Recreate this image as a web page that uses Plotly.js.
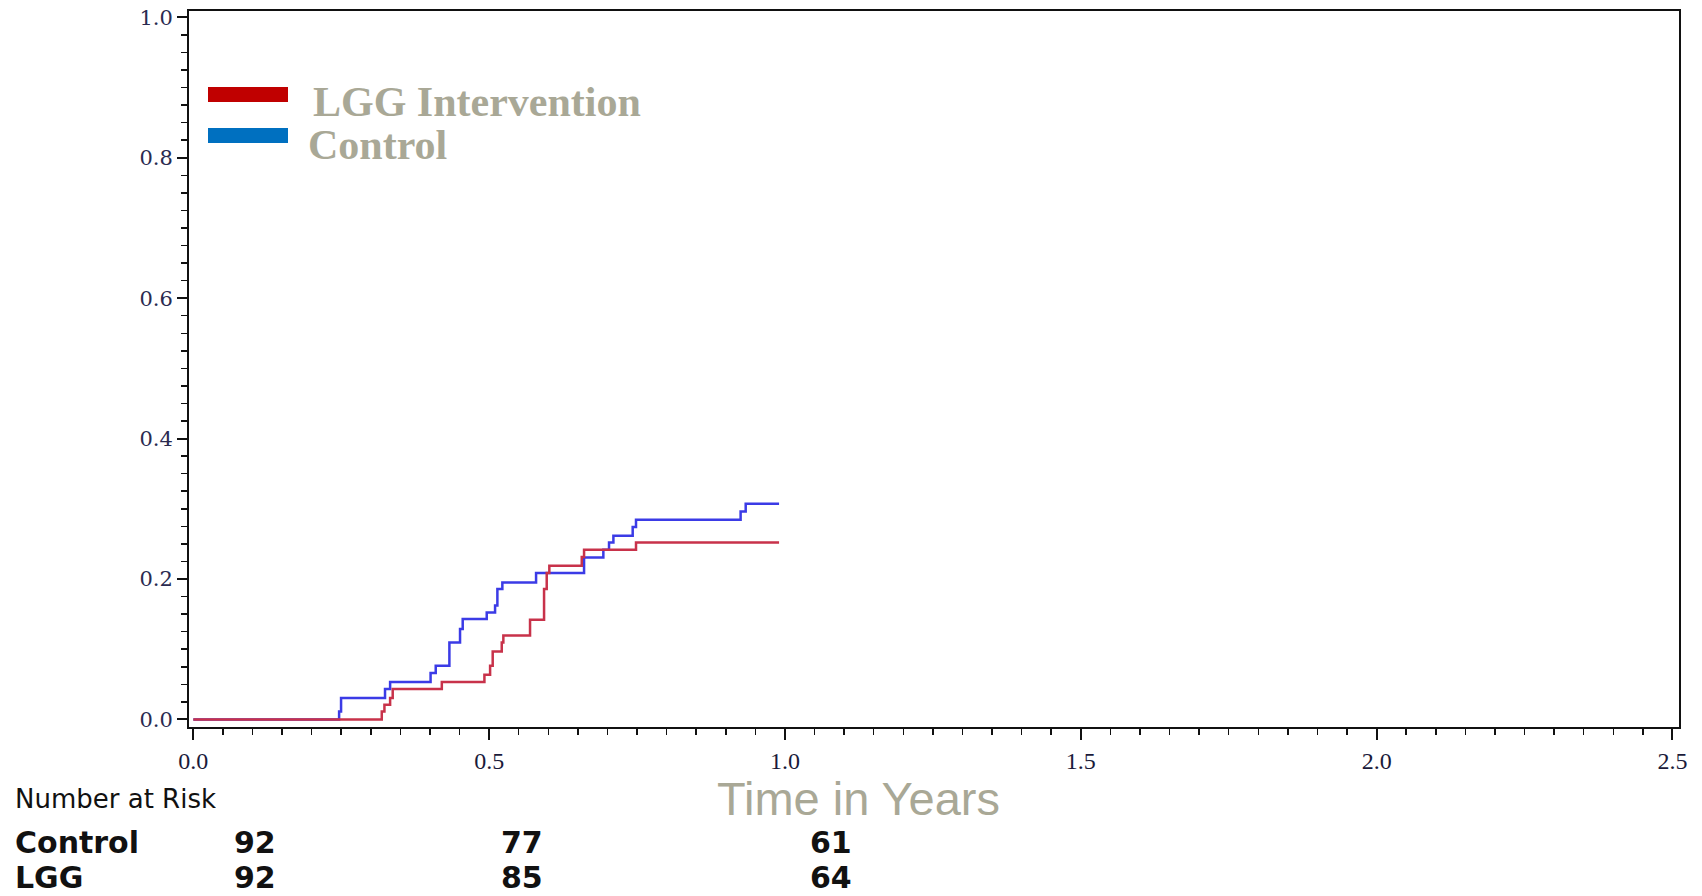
<!DOCTYPE html>
<html>
<head>
<meta charset="utf-8">
<script src="https://cdn.plot.ly/plotly-3.0.1.min.js"></script>
<style>html,body{margin:0;padding:0;background:#fff;}#chart{width:1702px;height:896px;}</style>
</head>
<body>
<div id="chart"></div>
<script>
// ---- data ----
const controlTime = [0, 0.2464, 0.2497, 0.324, 0.3326, 0.401, 0.4097, 0.4328, 0.4508, 0.4553, 0.4959, 0.51, 0.5139, 0.5223, 0.5793, 0.6604, 0.693, 0.7026, 0.71, 0.7426, 0.7482, 0.925, 0.9336, 0.99];
const controlRisk = [0, 0.0114, 0.0304, 0.0433, 0.0532, 0.066, 0.0765, 0.1097, 0.1287, 0.1429, 0.1524, 0.1624, 0.1857, 0.1951, 0.2085, 0.2307, 0.2416, 0.252, 0.2616, 0.274, 0.2843, 0.2962, 0.3071, 0.3071];
const lggTime = [0, 0.3185, 0.323, 0.3326, 0.337, 0.42, 0.492, 0.5016, 0.506, 0.5213, 0.524, 0.5691, 0.5928, 0.5973, 0.6017, 0.6565, 0.6604, 0.7482, 0.99];
const lggRisk = [0, 0.0114, 0.0209, 0.0304, 0.0433, 0.0532, 0.0636, 0.0765, 0.0968, 0.1097, 0.1196, 0.142, 0.1857, 0.2085, 0.2189, 0.2312, 0.2416, 0.252, 0.252];

const legendLabels = ["LGG Intervention", "Control"];
const riskGroups = ["Control", "LGG"];
const riskControl = [92, 77, 61];
const riskLGG = [92, 85, 64];
const xTitle = "Time in Years";
const riskTitle = "Number at Risk";

// ---- layout helpers (pixel -> paper) ----
const W = 1702, H = 896;
const mL = 189, mR = 23, mT = 11, mB = 169;
const pw = W - mL - mR, ph = H - mT - mB;
const px = X => (X - mL) / pw;
const py = Y => (H - mB - Y) / ph;

const traces = [
  {x: controlTime, y: controlRisk, type: 'scatter', mode: 'lines', line: {shape: 'hv', color: '#3b3be6', width: 2.5}, name: 'Control', showlegend: false},
  {x: lggTime, y: lggRisk, type: 'scatter', mode: 'lines', line: {shape: 'hv', color: '#c8324a', width: 2.5}, name: 'LGG', showlegend: false}
];

const legColor = '#a9a896';
const rowFont = {family: 'DejaVu Sans', size: 30, color: '#111'};
const annotations = [
  {text: '<b>' + legendLabels[0] + '</b>', x: px(311), y: py(101.5), xref: 'paper', yref: 'paper', xanchor: 'left', yanchor: 'middle', showarrow: false, font: {family: 'Liberation Serif', size: 42, color: legColor}},
  {text: '<b>' + legendLabels[1] + '</b>', x: px(306), y: py(145), xref: 'paper', yref: 'paper', xanchor: 'left', yanchor: 'middle', showarrow: false, font: {family: 'Liberation Serif', size: 42, color: legColor}},
  {text: xTitle, x: px(858), y: py(798), xref: 'paper', yref: 'paper', xanchor: 'center', yanchor: 'middle', showarrow: false, font: {family: 'Liberation Sans', size: 47, color: legColor}},
  {text: riskTitle, x: px(13), y: py(799), xref: 'paper', yref: 'paper', xanchor: 'left', yanchor: 'middle', showarrow: false, height: 28, font: {family: 'DejaVu Sans', size: 26, color: '#111'}},
  {text: '<b>' + riskGroups[0] + '</b>', x: px(13), y: py(842), xref: 'paper', yref: 'paper', xanchor: 'left', yanchor: 'middle', showarrow: false, height: 32, font: rowFont},
  {text: '<b>' + riskGroups[1] + '</b>', x: px(13), y: py(877), xref: 'paper', yref: 'paper', xanchor: 'left', yanchor: 'middle', showarrow: false, height: 30, font: rowFont}
];
const numX = [255, 522, 831];
riskControl.forEach((v, i) => annotations.push({text: '<b>' + v + '</b>', x: px(numX[i]), y: py(842), xref: 'paper', yref: 'paper', xanchor: 'center', yanchor: 'middle', showarrow: false, height: 32, font: rowFont}));
riskLGG.forEach((v, i) => annotations.push({text: '<b>' + v + '</b>', x: px(numX[i]), y: py(877), xref: 'paper', yref: 'paper', xanchor: 'center', yanchor: 'middle', showarrow: false, height: 30, font: rowFont}));

const shapes = [
  {type: 'rect', xref: 'paper', yref: 'paper', x0: px(208), x1: px(288), y0: py(102), y1: py(87), fillcolor: '#c00000', line: {width: 0}},
  {type: 'rect', xref: 'paper', yref: 'paper', x0: px(208), x1: px(288), y0: py(143), y1: py(128), fillcolor: '#0070c0', line: {width: 0}}
];

const layout = {
  width: W, height: H,
  margin: {l: mL, r: mR, t: mT, b: mB, pad: 0},
  paper_bgcolor: '#fff', plot_bgcolor: '#fff',
  showlegend: false,
  xaxis: {
    range: [-0.0073, 2.511], tick0: 0, dtick: 0.5, tickformat: '.1f',
    showgrid: false, zeroline: false, showline: true, linecolor: '#111', linewidth: 2, mirror: true,
    ticks: 'outside', ticklen: 11, tickwidth: 2, tickcolor: '#111',
    minor: {dtick: 0.05, ticks: 'outside', ticklen: 6, tickwidth: 1.5, tickcolor: '#111', showgrid: false},
    tickfont: {family: 'Liberation Serif', size: 24, color: '#1a1a3a'}
  },
  yaxis: {
    range: [-0.0108, 1.009], tick0: 0, dtick: 0.2, tickformat: '.1f',
    showgrid: false, zeroline: false, showline: true, linecolor: '#111', linewidth: 2, mirror: true,
    ticks: 'outside', ticklen: 10, tickwidth: 2, tickcolor: '#111',
    minor: {dtick: 0.025, ticks: 'outside', ticklen: 6, tickwidth: 1.5, tickcolor: '#111', showgrid: false},
    tickfont: {family: 'DejaVu Serif', size: 21, color: '#2a2a50'}
  },
  annotations: annotations,
  shapes: shapes
};

Plotly.newPlot('chart', traces, layout, {displayModeBar: false, staticPlot: true});
</script>
</body>
</html>
